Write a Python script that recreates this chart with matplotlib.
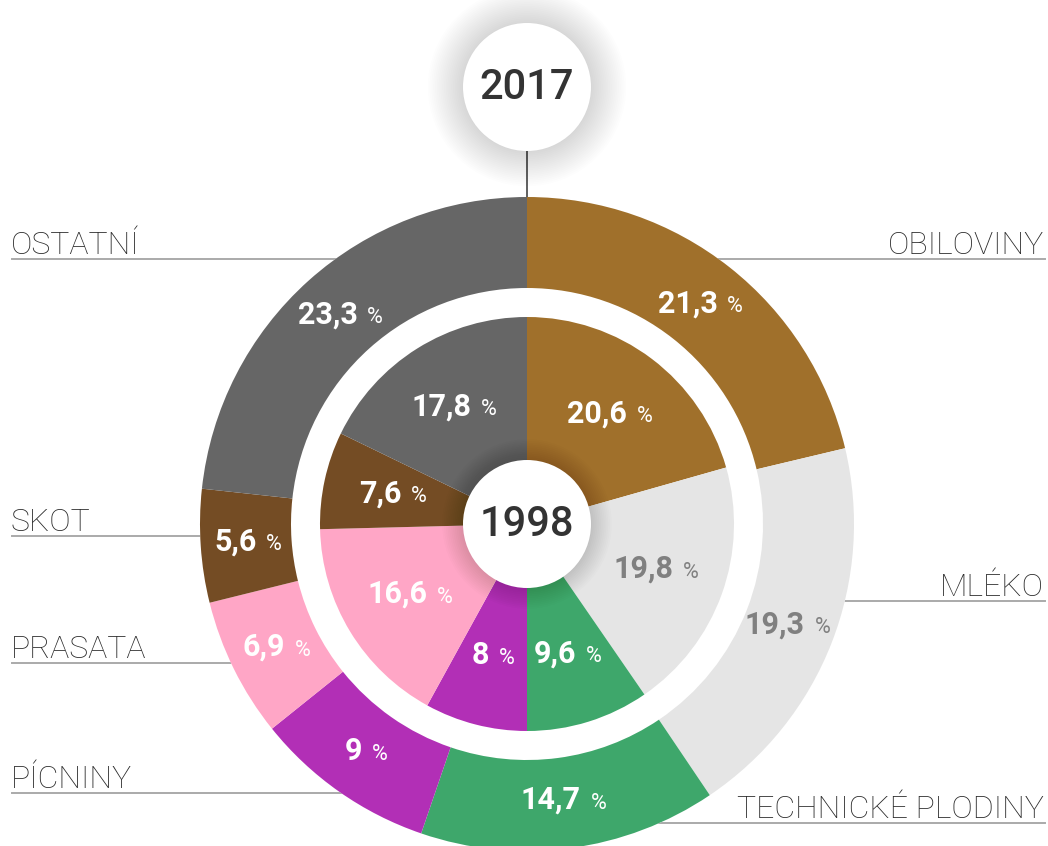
import matplotlib
matplotlib.use('Agg')
import matplotlib.pyplot as plt
from matplotlib.patches import Circle
from matplotlib.offsetbox import TextArea, HPacker, AnnotationBbox
import numpy as np

# data
categories = ['OBILOVINY', 'MLÉKO', 'TECHNICKÉ PLODINY', 'PÍCNINY', 'PRASATA', 'SKOT', 'OSTATNÍ']
share_2017 = [21.3, 19.3, 14.7, 9, 6.9, 5.6, 23.3]
share_1998 = [20.6, 19.8, 9.6, 8, 16.6, 7.6, 17.8]
colors = ['#a0702b', '#e5e5e5', '#3ea76b', '#b22fb6', '#ffa6c6', '#744c24', '#666666']
text_colors = ['white', '#808080', 'white', 'white', 'white', 'white', 'white']

# label rows (image y of underline), side
label_rows = {'OBILOVINY': (259, 'right'), 'MLÉKO': (601, 'right'),
              'TECHNICKÉ PLODINY': (823, 'right'), 'OSTATNÍ': (259, 'left'),
              'SKOT': (536, 'left'), 'PRASATA': (663, 'left'), 'PÍCNINY': (793, 'left')}

W, H = 1048, 846
fig = plt.figure(figsize=(W / 100, H / 100), dpi=100)
ax = fig.add_axes([0, 0, 1, 1])

cx, cy = 527, H - 524
R_out, R_out_in, R_in, R_hole = 327, 236, 207, 64

def fmt(v):
    return ('%g' % v).replace('.', ',')

# category lines + labels (behind the white disk)
for name, (yl, side) in label_rows.items():
    y = H - yl
    if side == 'left':
        ax.plot([12, cx], [y, y], color='#aaaaaa', lw=1.4, zorder=1)
        ax.text(11, y + 5, name, ha='left', va='baseline', fontsize=23,
                family='Roboto', fontweight='light', color='#2a2a2a', zorder=1)
    else:
        ax.plot([cx, 1045], [y, y], color='#aaaaaa', lw=1.4, zorder=1)
        ax.text(1044, y + 5, name, ha='right', va='baseline', fontsize=23,
                family='Roboto', fontweight='light', color='#2a2a2a', zorder=1)

ax.add_patch(Circle((cx, cy), R_out, facecolor='white', edgecolor='none', zorder=2))

# rings
outer, _ = ax.pie(share_2017, colors=colors, radius=R_out, center=(cx, cy),
                  startangle=90, counterclock=False,
                  wedgeprops=dict(width=R_out - R_out_in, linewidth=0), frame=True)
inner, _ = ax.pie(share_1998, colors=colors, radius=R_in, center=(cx, cy),
                  startangle=90, counterclock=False,
                  wedgeprops=dict(linewidth=0), frame=True)
for w in list(outer) + list(inner):
    w.set_zorder(3)

def pct_label(x, y, v, col):
    a = TextArea(fmt(v), textprops=dict(fontsize=22, family='Roboto', fontweight='bold', color=col))
    b = TextArea('%', textprops=dict(fontsize=15.5, family='Roboto', color=col))
    box = HPacker(children=[a, b], align='baseline', pad=0, sep=7)
    ab = AnnotationBbox(box, (x, y), frameon=False, box_alignment=(0.5, 0.45), zorder=6)
    ax.add_artist(ab)

r_mid_out = (R_out + R_out_in) / 2 - 2
r_mid_in = 137
for wedges, vals, r in [(outer, share_2017, r_mid_out), (inner, share_1998, r_mid_in)]:
    for w, v, tc in zip(wedges, vals, text_colors):
        ang = np.deg2rad((w.theta1 + w.theta2) / 2)
        pct_label(cx + r * np.cos(ang), cy + r * np.sin(ang), v, tc)

# shadows + centre circles
def shadow_circle(x, y, r, n, a):
    for k in range(n):
        ax.add_patch(Circle((x, y), r + 1 + k * 1.8, facecolor='black', edgecolor='none',
                            alpha=a, zorder=4))
    ax.add_patch(Circle((x, y), r, facecolor='white', edgecolor='none', zorder=5))

top_y = H - 87
ax.plot([cx, cx], [top_y - 64, cy + R_out], color='#444444', lw=1.2, zorder=1.5)
shadow_circle(cx, cy, R_hole, 12, 0.012)
shadow_circle(cx, top_y, 64, 20, 0.007)
ax.text(cx, cy, '1998', ha='center', va='center', fontsize=30, family='Roboto',
        fontweight='medium', color='#333333', zorder=7)
ax.text(cx, top_y, '2017', ha='center', va='center', fontsize=30, family='Roboto',
        fontweight='medium', color='#333333', zorder=7)

ax.set_xlim(0, W)
ax.set_ylim(0, H)
ax.set_aspect('equal')
ax.axis('off')

fig.savefig('out.png', dpi=100)
